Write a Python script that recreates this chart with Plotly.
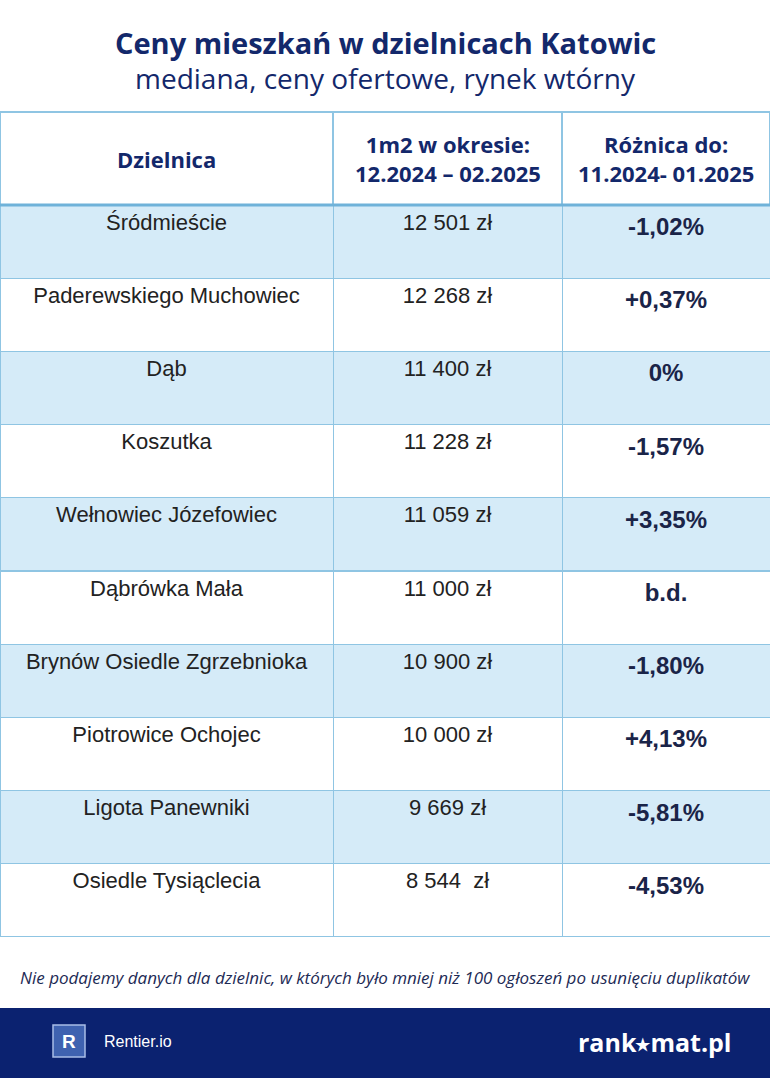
import plotly.graph_objects as go

districts = ["Śródmieście", "Paderewskiego Muchowiec", "Dąb", "Koszutka", "Wełnowiec Józefowiec",
             "Dąbrówka Mała", "Brynów Osiedle Zgrzebnioka", "Piotrowice Ochojec", "Ligota Panewniki",
             "Osiedle Tysiąclecia"]
prices = ["12 501 zł", "12 268 zł", "11 400 zł", "11 228 zł", "11 059 zł", "11 000 zł",
          "10 900 zł", "10 000 zł", "9 669 zł", "8 544  zł"]
changes = ["-1,02%", "+0,37%", "0%", "-1,57%", "+3,35%", "b.d.", "-1,80%", "+4,13%", "-5,81%", "-4,53%"]
headers = ["Dzielnica", "1m2 w okresie:<br>12.2024 – 02.2025", "Różnica do:<br>11.2024- 01.2025"]

W, H = 770, 1078
navy = "#13286b"
line = "#8fc5e3"
fills = ["#d5ebf8" if i % 2 == 0 else "#ffffff" for i in range(len(districts))]
colw = [333, 229, 208]

fig = go.Figure(go.Table(
    domain=dict(x=[0, 1], y=[1 - 937 / H, 1 - 112 / H]),
    columnwidth=colw,
    header=dict(values=["", "", ""], height=93,
                fill_color="white", line=dict(color=line, width=1.5)),
    cells=dict(values=[districts, prices, ["<b>%s</b>" % c for c in changes]], height=73.2,
               fill_color=[fills, fills, fills], line=dict(color=line, width=1),
               font=dict(family="Liberation Sans", size=[22, 22, 24], color=["#222", "#222", "#1a2448"]),
               align="center"),
))

shapes = [
    dict(type="line", xref="paper", yref="paper", x0=0, x1=1, y0=1 - 205 / H, y1=1 - 205 / H,
         line=dict(color="#6fb2d9", width=3)),
    dict(type="rect", xref="paper", yref="paper", x0=0, x1=1, y0=0, y1=1 - 1008 / H,
         fillcolor="#0b2270", line=dict(width=0), layer="below"),
    dict(type="rect", xref="paper", yref="paper", x0=53 / W, x1=85 / W, y0=1 - 1057 / H, y1=1 - 1025 / H,
         fillcolor="#3f62b0", line=dict(color="#a9bde6", width=1.5)),
]
ann = [
    dict(text="<b>Ceny mieszkań w dzielnicach Katowic</b>", x=0.5, y=1 - 43 / H,
         font=dict(family="Open Sans", size=29, color=navy)),
    dict(text="mediana, ceny ofertowe, rynek wtórny", x=0.5, y=1 - 78 / H,
         font=dict(family="Open Sans", size=28, color=navy)),
    dict(text="<i>Nie podajemy danych dla dzielnic, w których było mniej niż 100 ogłoszeń po usunięciu duplikatów</i>",
         x=0.5, y=1 - 977 / H, font=dict(family="Open Sans", size=17, color="#1d2a55")),
    dict(text="<b>R</b>", x=69 / W, y=1 - 1041 / H, font=dict(family="Liberation Sans", size=19, color="white")),
    dict(text="Rentier.io", x=102 / W, y=1 - 1041 / H, xanchor="left",
         font=dict(family="Liberation Sans", size=16, color="white")),
    dict(text="<b>rank⭑mat.pl</b>", x=733 / W, y=1 - 1042 / H, xanchor="right",
         font=dict(family="Open Sans", size=25, color="white")),
]
left = 0
for w, h in zip(colw, headers):
    ann.append(dict(text="<b>%s</b>" % h, x=(left + w / 2) / W, y=1 - 159 / H,
                    font=dict(family="Open Sans", size=22, color=navy)))
    left += w
for a in ann:
    a.update(xref="paper", yref="paper", showarrow=False)
    a.setdefault("xanchor", "center")
    a["yanchor"] = "middle"

fig.update_layout(width=W, height=H, margin=dict(l=0, r=0, t=0, b=0), paper_bgcolor="white",
                  shapes=shapes, annotations=ann)
fig.write_html("out.html", config={"displayModeBar": False},
               post_script="document.body.style.margin='0';")
